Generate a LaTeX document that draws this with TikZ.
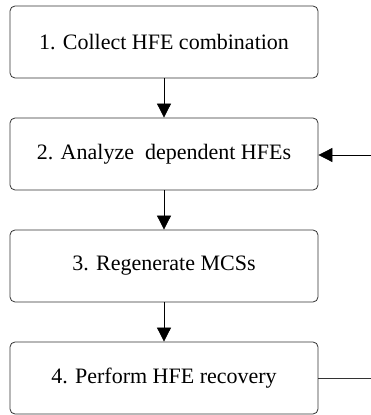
\documentclass[tikz,border=0pt]{standalone}
\usepackage{fontspec}
\newfontfamily\tnrfont{LiberationSerif-Regular.ttf}
\usetikzlibrary{arrows.meta}
\begin{document}
\begin{tikzpicture}[x=1pt,y=1pt,
  stepbox/.style={draw=black!80,line width=0.8pt,rounded corners=5pt,minimum width=308pt,minimum height=72pt,inner sep=0pt,font=\tnrfont\fontsize{22}{26}\selectfont},
  flow/.style={line width=0.8pt,-{Triangle[width=14pt,length=14pt]}},
  plain/.style={line width=0.8pt,draw=black!80}]
\useasboundingbox (0,0) rectangle (371,415);
\node[stepbox] (b1) at (164,373) {1. Collect HFE combination};
\node[stepbox] (b2) at (164,261) {2. Analyze\ \ dependent HFEs};
\node[stepbox] (b3) at (164,149) {3. Regenerate MCSs};
\node[stepbox] (b4) at (164,37) {4. Perform HFE recovery};
\draw[flow] (b1) -- (b2);
\draw[flow] (b2) -- (b3);
\draw[flow] (b3) -- (b4);
\coordinate (e4) at (371,37);
\coordinate (e2) at (371,260);
\draw[plain] (b4.east) -- (e4);
\draw[flow] (e2) -- (b2.east |- e2);
\end{tikzpicture}
\end{document}
